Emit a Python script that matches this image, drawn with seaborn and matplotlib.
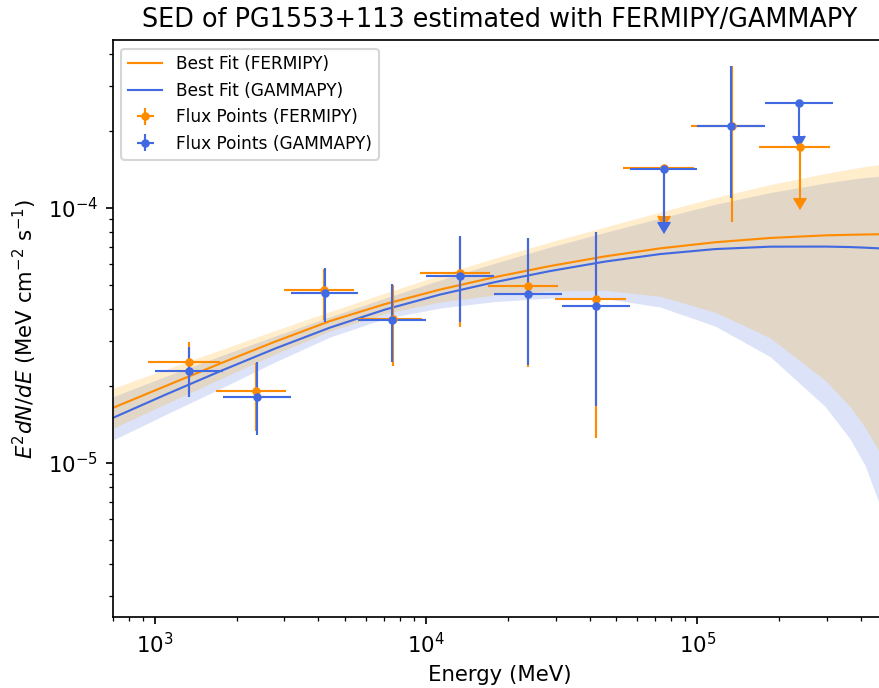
import numpy as np
import pandas as pd
import matplotlib
matplotlib.use("Agg")
import matplotlib.pyplot as plt
import seaborn as sns

# ---------------- data ----------------
# model curves (energy in MeV, E^2 dN/dE in MeV cm^-2 s^-1)
model_energy = [700, 1089, 1737, 2771, 4421, 7054, 11249, 17943, 28628, 45667, 72867,
                116220, 185400, 295810, 365750, 415390, 467790, 500000]
fermipy_fit = [1.642e-5, 1.995e-5, 2.449e-5, 2.985e-5, 3.596e-5, 4.192e-5, 4.778e-5,
               5.348e-5, 5.908e-5, 6.448e-5, 6.931e-5, 7.324e-5, 7.613e-5, 7.794e-5,
               7.836e-5, 7.857e-5, 7.872e-5, 7.879e-5]
gammapy_fit = [1.500e-5, 1.846e-5, 2.285e-5, 2.804e-5, 3.390e-5, 3.989e-5, 4.567e-5,
               5.112e-5, 5.647e-5, 6.152e-5, 6.583e-5, 6.887e-5, 7.038e-5, 7.044e-5,
               7.013e-5, 6.975e-5, 6.931e-5, 6.899e-5]
fermipy_band_hi = [1.957e-5, 2.320e-5, 2.767e-5, 3.300e-5, 3.917e-5, 4.629e-5, 5.445e-5,
                   6.350e-5, 7.337e-5, 8.402e-5, 9.619e-5, 1.0965e-4, 1.233e-4, 1.362e-4,
                   1.419e-4, 1.451e-4, 1.477e-4, 1.491e-4]
fermipy_band_lo = [1.364e-5, 1.696e-5, 2.130e-5, 2.666e-5, 3.285e-5, 3.847e-5, 4.268e-5,
                   4.546e-5, 4.713e-5, 4.743e-5, 4.493e-5, 3.893e-5, 3.087e-5, 2.105e-5,
                   1.658e-5, 1.375e-5, 1.109e-5, 9.698e-6]
gammapy_band_hi = [1.815e-5, 2.178e-5, 2.621e-5, 3.140e-5, 3.738e-5, 4.424e-5, 5.205e-5,
                   6.069e-5, 7.013e-5, 8.008e-5, 9.111e-5, 1.032e-4, 1.147e-4, 1.250e-4,
                   1.2925e-4, 1.314e-4, 1.329e-4, 1.338e-4]
gammapy_band_lo = [1.228e-5, 1.541e-5, 1.950e-5, 2.483e-5, 3.112e-5, 3.678e-5, 4.043e-5,
                   4.287e-5, 4.424e-5, 4.404e-5, 4.080e-5, 3.436e-5, 2.607e-5, 1.661e-5,
                   1.239e-5, 9.741e-6, 6.930e-6, 5.505e-6]

# flux points FERMIPY
f_e = [1331, 2365, 4203, 7511, 13350, 23740, 42300, 75110, 133800, 237900]
f_e_lo = [942, 1675, 2992, 5627, 9447, 16840, 29940, 53330, 94800, 168400]
f_e_hi = [1733, 3052, 5425, 9643, 17230, 30630, 54580, 97470, 173400, 307700]
f_flux = [2.475e-5, 1.912e-5, 4.756e-5, 3.66e-5, 5.53e-5, 4.94e-5, 4.37e-5,
          1.427e-4, 2.098e-4, 1.734e-4]
f_flux_hi = [2.98e-5, 2.46e-5, 5.75e-5, 4.98e-5, 7.74e-5, 7.6e-5, 8.0e-5,
             1.427e-4, 3.59e-4, 1.734e-4]
f_flux_lo = [1.89e-5, 1.33e-5, 3.63e-5, 2.40e-5, 3.41e-5, 2.37e-5, 1.246e-5,
             9.30e-5, 8.81e-5, 1.094e-4]
f_ul = [False, False, False, False, False, False, False, True, False, True]

# flux points GAMMAPY
g_e = [1334, 2371, 4217, 7499, 13335, 23714, 42170, 74989, 133352, 237137]
g_e_lo = [1000, 1778, 3162, 5623, 10000, 17783, 31623, 56234, 100000, 177828]
g_e_hi = [1778, 3162, 5623, 10000, 17783, 31623, 56234, 100000, 177828, 316228]
g_flux = [2.295e-5, 1.81e-5, 4.62e-5, 3.63e-5, 5.41e-5, 4.59e-5, 4.12e-5,
          1.414e-4, 2.098e-4, 2.567e-4]
g_flux_hi = [2.84e-5, 2.475e-5, 5.79e-5, 5.02e-5, 7.77e-5, 7.59e-5, 8.01e-5,
             1.414e-4, 3.594e-4, 2.567e-4]
g_flux_lo = [1.815e-5, 1.284e-5, 3.57e-5, 2.49e-5, 3.55e-5, 2.42e-5, 1.669e-5,
             8.81e-5, 1.094e-4, 1.911e-4]
g_ul = [False, False, False, False, False, False, False, True, False, True]

ORANGE = "darkorange"
BLUE = "royalblue"

# ---------------- figure ----------------
DPI = 153
fig = plt.figure(figsize=(879 / DPI, 688 / DPI), dpi=DPI)
ax = fig.add_axes([113 / 879, (688 - 616.7) / 688, (887 - 113) / 879, (616.7 - 40) / 688])
ax.set_xscale("log")
ax.set_yscale("log")

# confidence bands
ax.fill_between(model_energy, gammapy_band_lo, gammapy_band_hi, color=BLUE, alpha=0.18,
                linewidth=0)
ax.fill_between(model_energy, fermipy_band_lo, fermipy_band_hi, color="orange", alpha=0.2,
                linewidth=0)

# best-fit curves via seaborn
df_fit = pd.DataFrame({
    "E": model_energy * 2,
    "flux": fermipy_fit + gammapy_fit,
    "tool": ["FERMIPY"] * len(model_energy) + ["GAMMAPY"] * len(model_energy),
})
sns.lineplot(data=df_fit, x="E", y="flux", hue="tool", hue_order=["FERMIPY", "GAMMAPY"],
             palette={"FERMIPY": ORANGE, "GAMMAPY": BLUE}, linewidth=1.0,
             estimator=None, legend=False, ax=ax)
line_f, line_g = ax.lines[0], ax.lines[1]


def draw_points(e, elo, ehi, fl, flo, fhi, ul, color):
    e = np.asarray(e, float); elo = np.asarray(elo, float); ehi = np.asarray(ehi, float)
    fl = np.asarray(fl, float); flo = np.asarray(flo, float); fhi = np.asarray(fhi, float)
    ul = np.asarray(ul, bool)
    det = ~ul
    cont = ax.errorbar(e[det], fl[det], xerr=[e[det] - elo[det], ehi[det] - e[det]],
                       yerr=[fl[det] - flo[det], fhi[det] - fl[det]], fmt="o", ms=3,
                       color=color, elinewidth=1.0, capsize=0)
    ax.errorbar(e[ul], fl[ul], xerr=[e[ul] - elo[ul], ehi[ul] - e[ul]],
                yerr=[fl[ul] - flo[ul], np.zeros(ul.sum())], uplims=True,
                fmt="o", ms=3, color=color, elinewidth=1.0, capsize=0)
    return cont


pts_f = draw_points(f_e, f_e_lo, f_e_hi, f_flux, f_flux_lo, f_flux_hi, f_ul, ORANGE)
pts_g = draw_points(g_e, g_e_lo, g_e_hi, g_flux, g_flux_lo, g_flux_hi, g_ul, BLUE)

ax.set_xlim(700, 5e5)
ax.set_ylim(2.49e-6, 4.55e-4)
ax.set_xlabel("Energy (MeV)", fontsize=10)
ax.set_ylabel(r"$E^2dN/dE$ (MeV cm$^{-2}$ s$^{-1}$)", fontsize=10)
ax.set_title("SED of PG1553+113 estimated with FERMIPY/GAMMAPY", fontsize=12)

ax.legend([line_f, line_g, pts_f, pts_g],
          ["Best Fit (FERMIPY)", "Best Fit (GAMMAPY)",
           "Flux Points (FERMIPY)", "Flux Points (GAMMAPY)"],
          loc="upper left", fontsize=8)

fig.savefig("out.png", dpi=DPI)
